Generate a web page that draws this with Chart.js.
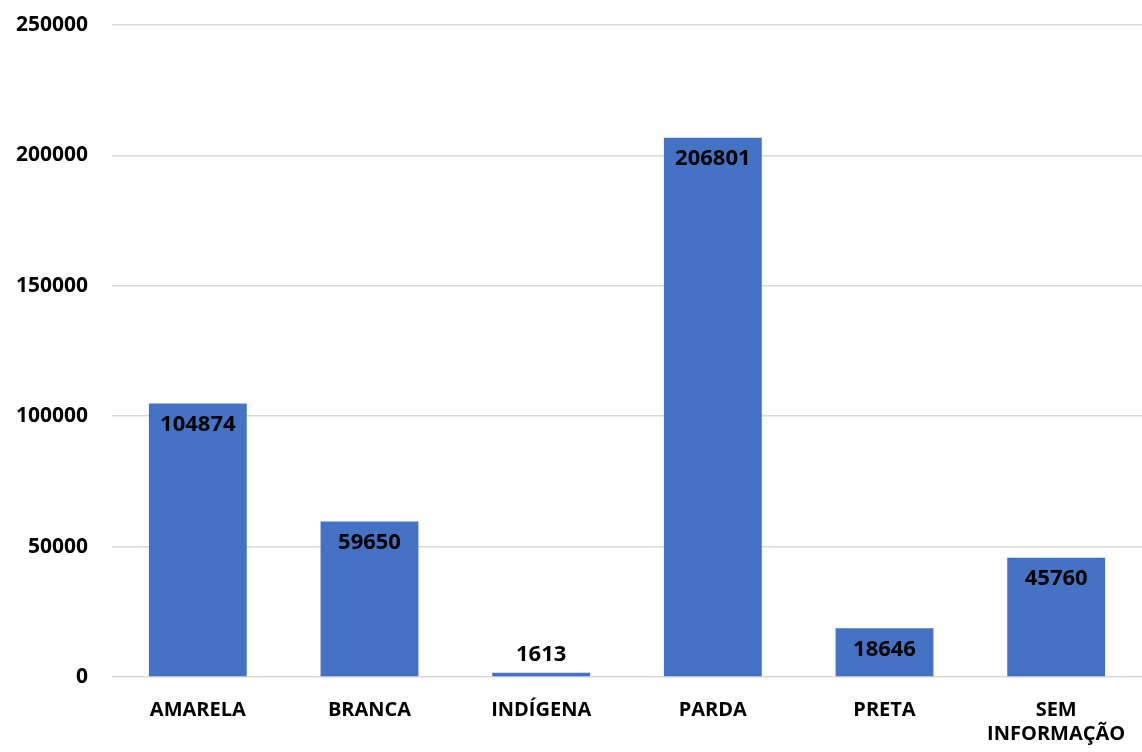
<!DOCTYPE html>
<html>
<head>
<meta charset="utf-8">
<script src="https://cdn.jsdelivr.net/npm/chart.js@4.4.1/dist/chart.umd.min.js"></script>
<style>
  html, body { margin: 0; padding: 0; background: #fff; }
  #wrap { width: 1142px; height: 752px; position: relative; }
</style>
</head>
<body>
<div id="wrap"><canvas id="barChart"></canvas></div>
<script>
var categories = ["AMARELA", "BRANCA", "INDÍGENA", "PARDA", "PRETA", ["SEM", "INFORMAÇÃO"]];
var values = [104874, 59650, 1613, 206801, 18646, 45760];
var yTicks = [0, 50000, 100000, 150000, 200000, 250000];

var FONT = "'Open Sans', 'Liberation Sans', sans-serif";

// rótulos de valor no topo das barras (dentro, ou acima se a barra for baixa)
var valueLabels = {
  id: "valueLabels",
  afterDatasetsDraw: function (chart) {
    var ctx = chart.ctx;
    var meta = chart.getDatasetMeta(0);
    ctx.save();
    ctx.font = "bold 22px " + FONT;
    ctx.fillStyle = "#000";
    ctx.textAlign = "center";
    ctx.textBaseline = "middle";
    meta.data.forEach(function (bar, i) {
      var h = bar.base - bar.y;
      var y = h > 45 ? bar.y + 21 : bar.y - 18;
      ctx.fillText(String(values[i]), bar.x, y);
    });
    ctx.restore();
  },
};

var ctx = document.getElementById("barChart").getContext("2d");
var myChart = new Chart(ctx, {
  type: "bar",
  data: {
    labels: categories,
    datasets: [
      {
        data: values,
        backgroundColor: "#4472C4",
        borderWidth: 0,
        categoryPercentage: 1,
        barPercentage: 0.57,
      },
    ],
  },
  options: {
    responsive: true,
    maintainAspectRatio: false,
    animation: false,
    layout: { padding: { top: 25, right: 0, left: 0, bottom: 0 } },
    plugins: {
      legend: { display: false },
      tooltip: { enabled: false },
    },
    scales: {
      x: {
        grid: { display: false },
        border: { display: false },
        ticks: {
          color: "#000",
          font: { family: FONT, size: 20, weight: "bold" },
          padding: 13,
          maxRotation: 0,
          autoSkip: false,
        },
        afterFit: function (scale) { scale.height = 75; },
      },
      y: {
        min: 0,
        max: 250000,
        afterBuildTicks: function (scale) {
          scale.ticks = yTicks.map(function (v) { return { value: v }; });
        },
        grid: { color: "#d9d9d9", lineWidth: 1.5, drawTicks: false },
        border: { display: false },
        ticks: {
          color: "#000",
          font: { family: FONT, size: 21, weight: "bold" },
          padding: 24,
          callback: function (v) { return String(v); },
        },
        afterFit: function (scale) {
          scale.width = 112;
          scale.paddingTop = 0;
          scale.paddingBottom = 0;
        },
      },
    },
  },
  plugins: [valueLabels],
});
</script>
</body>
</html>
